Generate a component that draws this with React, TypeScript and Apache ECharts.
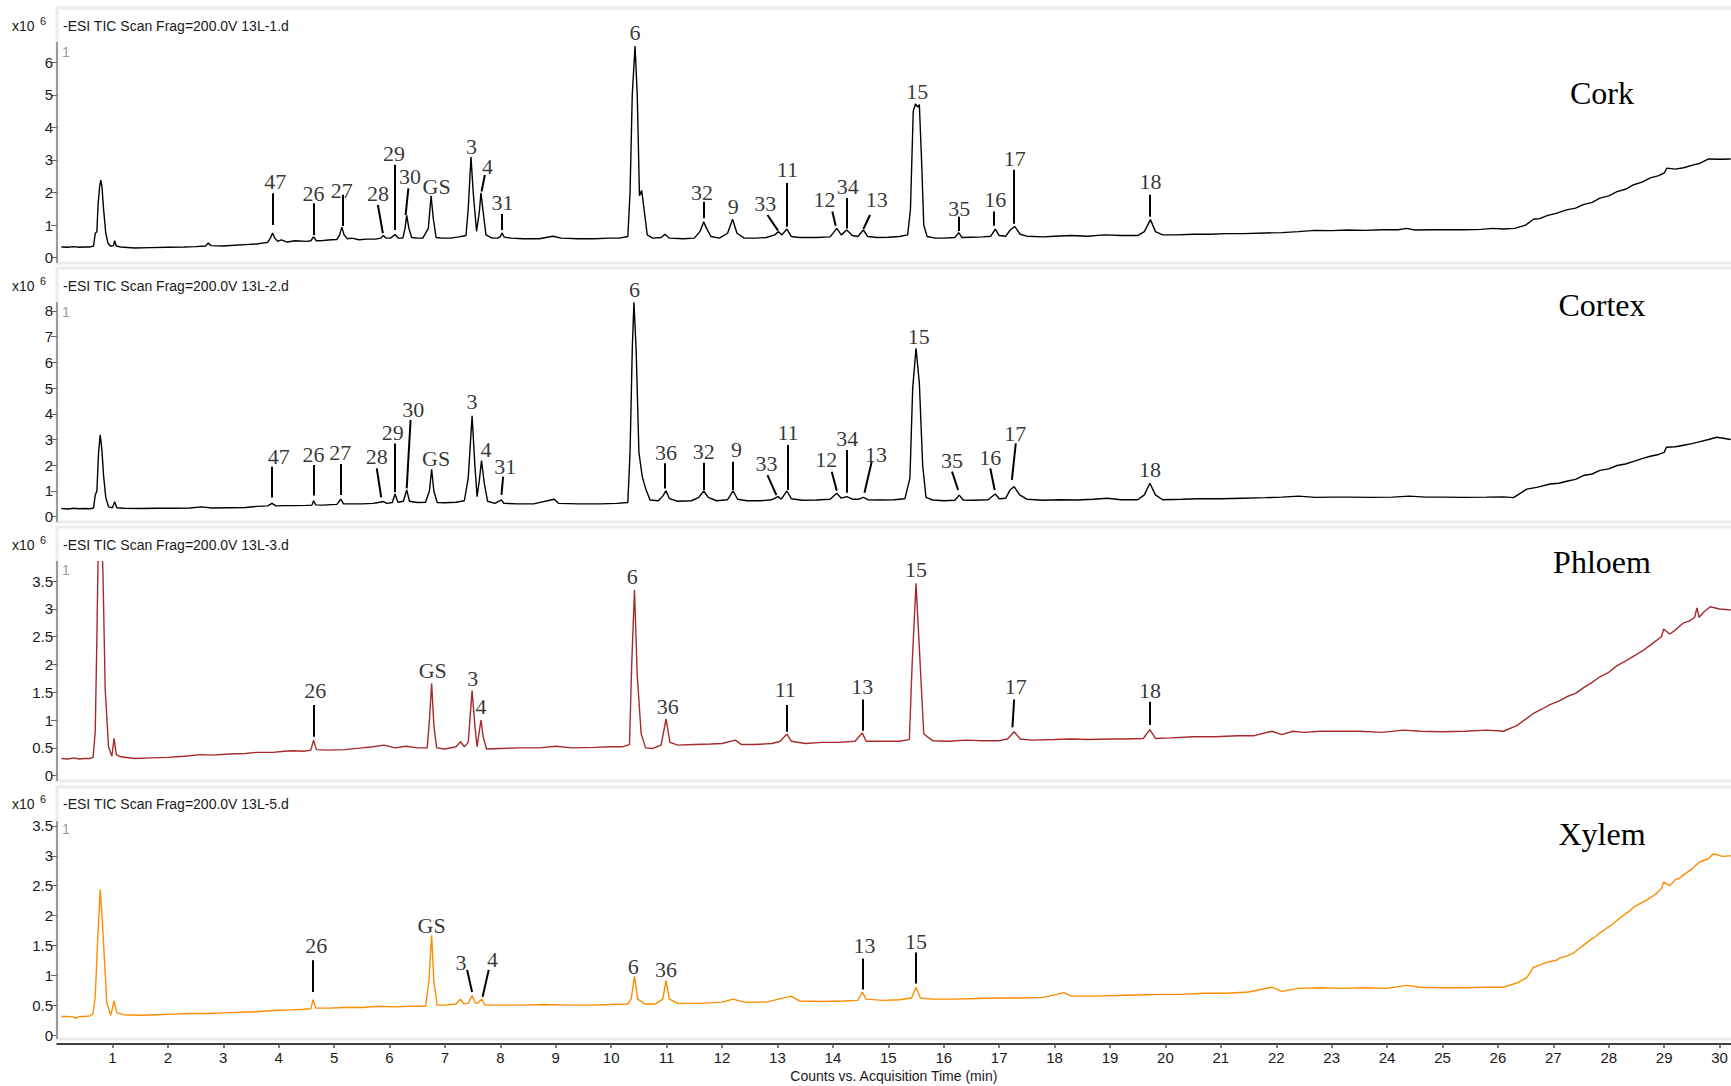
import React, { useEffect, useRef } from 'react';
import * as echarts from 'echarts';

// ---------- data: retention time (min) vs counts (x10^6) ----------
const corkTrace: [number, number][] = [
  [0.08,0.33],[0.2,0.32],[0.3,0.34],[0.4,0.32],[0.5,0.33],[0.6,0.33],[0.66,0.36],[0.69,0.75],[0.72,0.8],[0.74,1.6],[0.77,2.2],[0.79,2.38],[0.81,2.2],[0.84,1.5],[0.88,0.75],[0.92,0.45],[0.97,0.35],[1.02,0.38],[1.04,0.52],[1.07,0.36],[1.15,0.33],[1.4,0.3],[1.7,0.31],[2.0,0.32],[2.3,0.33],[2.5,0.34],[2.68,0.36],[2.73,0.45],[2.78,0.37],[3.0,0.36],[3.2,0.38],[3.4,0.4],[3.6,0.42],[3.8,0.47],[3.85,0.6],[3.89,0.76],[3.93,0.6],[3.98,0.5],[4.05,0.55],[4.15,0.48],[4.3,0.52],[4.5,0.5],[4.58,0.52],[4.63,0.64],[4.68,0.52],[4.8,0.53],[4.95,0.55],[5.05,0.56],[5.1,0.7],[5.14,0.94],[5.18,0.7],[5.24,0.58],[5.32,0.6],[5.45,0.55],[5.6,0.57],[5.75,0.57],[5.84,0.6],[5.89,0.68],[5.94,0.6],[6.02,0.6],[6.1,0.71],[6.16,0.6],[6.24,0.6],[6.28,0.9],[6.31,1.3],[6.35,0.9],[6.4,0.62],[6.5,0.6],[6.6,0.6],[6.7,0.9],[6.75,1.9],[6.79,1.2],[6.84,0.62],[6.95,0.6],[7.1,0.6],[7.25,0.64],[7.38,0.68],[7.42,1.5],[7.47,3.1],[7.51,2.0],[7.57,0.81],[7.62,1.4],[7.65,1.99],[7.69,1.4],[7.74,0.7],[7.85,0.6],[7.95,0.6],[8.0,0.65],[8.03,0.76],[8.07,0.63],[8.2,0.6],[8.4,0.58],[8.7,0.58],[8.95,0.66],[9.1,0.6],[9.4,0.58],[9.7,0.58],[9.95,0.6],[10.15,0.6],[10.3,0.65],[10.34,2.0],[10.38,5.0],[10.43,6.5],[10.47,5.0],[10.51,1.9],[10.55,2.06],[10.6,1.4],[10.65,0.7],[10.75,0.6],[10.9,0.62],[10.97,0.72],[11.05,0.6],[11.3,0.58],[11.5,0.6],[11.6,0.8],[11.67,1.1],[11.72,0.9],[11.8,0.65],[11.95,0.6],[12.1,0.75],[12.19,1.18],[12.27,0.75],[12.4,0.6],[12.6,0.6],[12.8,0.62],[12.95,0.7],[13.02,0.8],[13.08,0.7],[13.17,0.88],[13.25,0.65],[13.4,0.62],[13.7,0.62],[13.95,0.64],[14.07,0.9],[14.15,0.7],[14.25,0.85],[14.35,0.68],[14.45,0.65],[14.55,0.85],[14.63,0.65],[14.8,0.62],[15.0,0.63],[15.2,0.65],[15.35,0.7],[15.4,1.5],[15.45,4.5],[15.49,4.72],[15.53,4.62],[15.56,4.7],[15.6,3.0],[15.64,1.0],[15.7,0.65],[15.85,0.6],[16.0,0.6],[16.2,0.62],[16.27,0.77],[16.33,0.62],[16.5,0.63],[16.7,0.64],[16.85,0.66],[16.93,0.88],[17.0,0.68],[17.12,0.66],[17.2,0.85],[17.28,0.96],[17.38,0.72],[17.5,0.66],[17.8,0.64],[18.0,0.66],[18.3,0.68],[18.6,0.66],[18.9,0.7],[19.2,0.68],[19.5,0.68],[19.62,0.8],[19.73,1.17],[19.82,0.8],[19.95,0.7],[20.2,0.7],[20.5,0.72],[20.8,0.72],[21.1,0.74],[21.4,0.74],[21.8,0.76],[22.1,0.77],[22.4,0.8],[22.7,0.84],[23.0,0.83],[23.3,0.85],[23.6,0.84],[23.9,0.86],[24.2,0.86],[24.35,0.9],[24.5,0.85],[24.8,0.86],[25.1,0.86],[25.4,0.86],[25.7,0.87],[25.9,0.9],[26.1,0.88],[26.3,0.9],[26.5,1.0],[26.64,1.18],[26.75,1.2],[26.9,1.3],[27.05,1.36],[27.24,1.47],[27.4,1.52],[27.54,1.63],[27.7,1.7],[27.84,1.83],[28.0,1.9],[28.15,2.03],[28.3,2.1],[28.45,2.24],[28.6,2.32],[28.75,2.45],[28.9,2.52],[29.0,2.6],[29.05,2.75],[29.2,2.72],[29.35,2.76],[29.53,2.85],[29.65,2.9],[29.8,3.03],[30.0,3.02],[30.2,3.03]
];

const cortexTrace: [number, number][] = [
  [0.08,0.32],[0.2,0.3],[0.3,0.33],[0.4,0.31],[0.5,0.32],[0.6,0.31],[0.66,0.34],[0.69,0.84],[0.72,1.0],[0.75,2.5],[0.78,3.18],[0.81,2.6],[0.84,1.6],[0.88,0.75],[0.93,0.38],[1.0,0.35],[1.04,0.58],[1.08,0.35],[1.2,0.33],[1.5,0.32],[1.8,0.33],[2.1,0.33],[2.4,0.34],[2.6,0.38],[2.8,0.34],[3.1,0.35],[3.4,0.36],[3.6,0.4],[3.8,0.42],[3.88,0.52],[3.95,0.42],[4.1,0.43],[4.3,0.43],[4.5,0.44],[4.6,0.45],[4.63,0.62],[4.67,0.46],[4.8,0.45],[4.95,0.47],[5.05,0.48],[5.12,0.68],[5.17,0.5],[5.3,0.5],[5.5,0.5],[5.7,0.52],[5.8,0.55],[5.89,0.59],[5.95,0.52],[6.05,0.55],[6.1,0.88],[6.15,0.56],[6.25,0.6],[6.31,1.04],[6.36,0.6],[6.5,0.55],[6.65,0.56],[6.72,1.0],[6.76,1.84],[6.8,1.0],[6.86,0.55],[7.0,0.54],[7.2,0.56],[7.35,0.62],[7.42,1.5],[7.49,3.92],[7.54,2.0],[7.58,0.78],[7.62,1.4],[7.66,2.18],[7.71,1.3],[7.77,0.6],[7.9,0.52],[8.02,0.65],[8.06,0.52],[8.3,0.5],[8.6,0.5],[8.97,0.68],[9.05,0.52],[9.4,0.5],[9.8,0.5],[10.1,0.52],[10.3,0.55],[10.34,2.5],[10.38,6.5],[10.41,8.34],[10.45,6.5],[10.5,2.5],[10.56,1.56],[10.62,1.1],[10.7,0.65],[10.85,0.62],[10.93,0.8],[10.99,1.01],[11.05,0.7],[11.2,0.6],[11.45,0.62],[11.58,0.75],[11.67,1.0],[11.75,0.75],[11.9,0.62],[12.1,0.66],[12.2,1.0],[12.28,0.68],[12.45,0.62],[12.7,0.62],[12.9,0.66],[13.01,0.78],[13.07,0.68],[13.17,1.0],[13.25,0.7],[13.45,0.64],[13.7,0.65],[13.95,0.68],[14.07,0.91],[14.15,0.72],[14.25,0.78],[14.35,0.68],[14.47,0.68],[14.55,0.75],[14.63,0.66],[14.85,0.65],[15.1,0.66],[15.3,0.7],[15.39,1.5],[15.44,5.0],[15.5,6.55],[15.56,5.2],[15.62,2.0],[15.68,0.75],[15.8,0.65],[16.0,0.62],[16.2,0.64],[16.28,0.84],[16.35,0.65],[16.55,0.64],[16.8,0.66],[16.93,0.88],[17.0,0.7],[17.12,0.72],[17.2,1.05],[17.27,1.17],[17.37,0.85],[17.5,0.68],[17.8,0.64],[18.1,0.66],[18.4,0.65],[18.7,0.68],[18.95,0.72],[19.2,0.66],[19.5,0.66],[19.62,0.85],[19.72,1.3],[19.82,0.85],[19.95,0.66],[20.3,0.68],[20.6,0.7],[21.0,0.7],[21.4,0.72],[21.8,0.74],[22.1,0.76],[22.4,0.8],[22.7,0.75],[23.0,0.76],[23.3,0.76],[23.7,0.75],[24.1,0.76],[24.4,0.8],[24.7,0.76],[25.0,0.76],[25.4,0.75],[25.8,0.76],[26.1,0.77],[26.28,0.74],[26.52,1.07],[26.7,1.14],[26.94,1.27],[27.1,1.3],[27.24,1.38],[27.4,1.45],[27.54,1.6],[27.7,1.66],[27.84,1.8],[28.0,1.86],[28.15,1.99],[28.3,2.05],[28.45,2.15],[28.6,2.26],[28.75,2.35],[28.9,2.42],[29.0,2.5],[29.04,2.7],[29.2,2.72],[29.35,2.78],[29.5,2.84],[29.65,2.92],[29.8,3.0],[29.95,3.09],[30.2,3.0]
];

const phloemTrace: [number, number][] = [
  [0.08,0.31],[0.2,0.3],[0.3,0.32],[0.4,0.3],[0.5,0.31],[0.6,0.31],[0.65,0.33],[0.69,0.79],[0.72,2.5],[0.75,4.5],[0.79,5.0],[0.83,3.6],[0.87,1.54],[0.93,0.52],[0.99,0.35],[1.03,0.67],[1.07,0.38],[1.15,0.34],[1.4,0.31],[1.7,0.32],[2.0,0.33],[2.3,0.35],[2.58,0.38],[2.8,0.37],[3.1,0.39],[3.4,0.4],[3.6,0.42],[3.9,0.42],[4.1,0.44],[4.27,0.45],[4.45,0.44],[4.58,0.46],[4.63,0.64],[4.68,0.47],[4.9,0.46],[5.2,0.47],[5.5,0.5],[5.7,0.52],[5.9,0.55],[6.1,0.5],[6.3,0.53],[6.5,0.5],[6.68,0.5],[6.72,1.0],[6.76,1.66],[6.8,0.9],[6.85,0.5],[7.0,0.48],[7.2,0.52],[7.28,0.61],[7.35,0.52],[7.42,0.6],[7.49,1.53],[7.54,0.9],[7.58,0.52],[7.62,0.8],[7.65,1.0],[7.69,0.7],[7.75,0.48],[8.0,0.49],[8.3,0.5],[8.7,0.5],[9.0,0.53],[9.3,0.5],[9.7,0.51],[10.0,0.52],[10.2,0.52],[10.33,0.56],[10.37,2.0],[10.42,3.34],[10.47,1.8],[10.54,0.76],[10.62,0.5],[10.75,0.49],[10.9,0.55],[10.99,1.02],[11.06,0.6],[11.2,0.55],[11.5,0.56],[11.8,0.57],[12.0,0.58],[12.24,0.64],[12.35,0.56],[12.6,0.56],[12.9,0.58],[13.05,0.62],[13.17,0.75],[13.25,0.62],[13.5,0.58],[13.8,0.6],[14.1,0.6],[14.4,0.62],[14.53,0.77],[14.6,0.62],[14.9,0.62],[15.2,0.62],[15.38,0.65],[15.43,2.0],[15.5,3.46],[15.56,2.3],[15.64,0.75],[15.8,0.63],[16.1,0.62],[16.4,0.64],[16.7,0.63],[17.0,0.63],[17.15,0.66],[17.27,0.79],[17.38,0.66],[17.6,0.64],[18.0,0.65],[18.3,0.66],[18.6,0.65],[19.0,0.66],[19.3,0.66],[19.6,0.67],[19.72,0.83],[19.82,0.67],[20.1,0.68],[20.5,0.7],[20.9,0.7],[21.3,0.72],[21.6,0.72],[21.92,0.8],[22.1,0.74],[22.3,0.8],[22.5,0.78],[22.8,0.8],[23.1,0.8],[23.5,0.8],[23.9,0.78],[24.3,0.82],[24.6,0.8],[25.0,0.79],[25.4,0.8],[25.8,0.82],[26.1,0.8],[26.34,0.9],[26.64,1.12],[26.8,1.2],[26.94,1.28],[27.1,1.34],[27.24,1.42],[27.4,1.48],[27.54,1.58],[27.7,1.68],[27.84,1.78],[28.0,1.86],[28.15,1.98],[28.3,2.06],[28.45,2.15],[28.6,2.24],[28.75,2.35],[28.95,2.5],[28.99,2.64],[29.1,2.55],[29.2,2.62],[29.35,2.75],[29.45,2.78],[29.55,2.85],[29.59,3.02],[29.63,2.85],[29.72,2.95],[29.83,3.04],[30.0,3.0],[30.2,2.98]
];

const xylemTrace: [number, number][] = [
  [0.08,0.31],[0.2,0.31],[0.3,0.3],[0.35,0.28],[0.4,0.31],[0.5,0.31],[0.6,0.32],[0.65,0.36],[0.69,0.64],[0.73,1.5],[0.78,2.44],[0.82,1.87],[0.9,0.53],[0.97,0.33],[1.03,0.57],[1.08,0.37],[1.2,0.34],[1.5,0.33],[1.8,0.34],[2.1,0.35],[2.4,0.36],[2.7,0.36],[3.0,0.37],[3.3,0.38],[3.6,0.39],[3.9,0.41],[4.2,0.42],[4.45,0.43],[4.58,0.44],[4.62,0.59],[4.67,0.45],[4.9,0.45],[5.2,0.46],[5.5,0.46],[5.8,0.48],[6.1,0.47],[6.4,0.48],[6.65,0.48],[6.71,0.9],[6.76,1.67],[6.8,0.9],[6.86,0.5],[7.0,0.5],[7.2,0.52],[7.28,0.6],[7.34,0.52],[7.42,0.53],[7.49,0.66],[7.55,0.53],[7.6,0.54],[7.66,0.6],[7.72,0.5],[8.0,0.5],[8.4,0.5],[8.8,0.51],[9.2,0.5],[9.6,0.5],[10.0,0.51],[10.3,0.52],[10.36,0.6],[10.42,0.98],[10.48,0.6],[10.6,0.52],[10.8,0.52],[10.93,0.6],[10.99,0.91],[11.05,0.6],[11.2,0.53],[11.6,0.53],[12.0,0.55],[12.2,0.6],[12.4,0.55],[12.8,0.55],[13.24,0.65],[13.4,0.57],[13.8,0.56],[14.2,0.57],[14.45,0.58],[14.53,0.72],[14.6,0.6],[14.9,0.58],[15.2,0.59],[15.42,0.62],[15.5,0.8],[15.58,0.62],[15.8,0.6],[16.2,0.6],[16.6,0.61],[17.0,0.62],[17.4,0.62],[17.8,0.63],[18.17,0.71],[18.3,0.65],[18.7,0.65],[19.1,0.66],[19.5,0.67],[19.9,0.68],[20.3,0.68],[20.7,0.7],[21.1,0.7],[21.5,0.72],[21.92,0.8],[22.1,0.73],[22.4,0.78],[22.8,0.79],[23.2,0.78],[23.6,0.79],[24.0,0.78],[24.35,0.83],[24.6,0.8],[25.0,0.79],[25.4,0.79],[25.8,0.8],[26.1,0.8],[26.34,0.87],[26.52,0.96],[26.64,1.13],[26.75,1.17],[26.82,1.2],[26.94,1.23],[27.05,1.25],[27.12,1.29],[27.24,1.32],[27.38,1.38],[27.45,1.44],[27.54,1.5],[27.68,1.6],[27.75,1.64],[27.84,1.71],[27.98,1.8],[28.05,1.84],[28.15,1.92],[28.3,2.03],[28.37,2.07],[28.45,2.14],[28.6,2.22],[28.67,2.25],[28.75,2.3],[28.85,2.36],[28.95,2.45],[28.99,2.56],[29.1,2.5],[29.2,2.6],[29.27,2.62],[29.35,2.68],[29.5,2.78],[29.57,2.84],[29.65,2.9],[29.8,2.95],[29.88,3.03],[29.95,3.02],[30.05,2.99],[30.2,3.0]
];

type PeakLabel = { name: string; t: number; v: number; line?: [number, number, number, number] };

const corkLabels: PeakLabel[] = [
  { name: '47', t: 3.94, v: 2.34, line: [3.89, 1.98, 3.89, 1.0] },
  { name: '26', t: 4.63, v: 1.98, line: [4.63, 1.67, 4.63, 0.7] },
  { name: '27', t: 5.14, v: 2.06, line: [5.15, 1.93, 5.15, 0.97] },
  { name: '28', t: 5.79, v: 1.98, line: [5.79, 1.62, 5.88, 0.75] },
  { name: '29', t: 6.08, v: 3.21, line: [6.1, 2.85, 6.1, 0.85] },
  { name: '30', t: 6.37, v: 2.49, line: [6.34, 2.13, 6.29, 1.31] },
  { name: 'GS', t: 6.85, v: 2.18 },
  { name: '3', t: 7.48, v: 3.42 },
  { name: '4', t: 7.77, v: 2.8, line: [7.72, 2.54, 7.66, 2.03] },
  { name: '31', t: 8.04, v: 1.69, line: [8.03, 1.34, 8.03, 0.85] },
  { name: '6', t: 10.43, v: 6.91 },
  { name: '32', t: 11.64, v: 2.0, line: [11.67, 1.72, 11.67, 1.21] },
  { name: '9', t: 12.2, v: 1.57 },
  { name: '33', t: 12.78, v: 1.65, line: [12.82, 1.31, 13.01, 0.83] },
  { name: '11', t: 13.18, v: 2.7, line: [13.17, 2.29, 13.17, 0.95] },
  { name: '12', t: 13.85, v: 1.78, line: [13.99, 1.42, 14.05, 0.98] },
  { name: '34', t: 14.27, v: 2.18, line: [14.25, 1.83, 14.25, 0.9] },
  { name: '13', t: 14.79, v: 1.78, line: [14.67, 1.31, 14.55, 0.88] },
  { name: '15', t: 15.52, v: 5.11 },
  { name: '35', t: 16.28, v: 1.52, line: [16.27, 1.26, 16.27, 0.82] },
  { name: '16', t: 16.93, v: 1.78, line: [16.91, 1.42, 16.91, 0.98] },
  { name: '17', t: 17.28, v: 3.06, line: [17.26, 2.7, 17.26, 1.04] },
  { name: '18', t: 19.73, v: 2.34, line: [19.72, 1.93, 19.72, 1.26] },
];

const cortexLabels: PeakLabel[] = [
  { name: '47', t: 4.0, v: 2.33, line: [3.88, 1.94, 3.88, 0.75] },
  { name: '26', t: 4.63, v: 2.4, line: [4.63, 2.01, 4.63, 0.82] },
  { name: '27', t: 5.11, v: 2.49, line: [5.12, 2.05, 5.12, 0.84] },
  { name: '28', t: 5.77, v: 2.33, line: [5.77, 1.88, 5.85, 0.75] },
  { name: '29', t: 6.06, v: 3.27, line: [6.1, 2.85, 6.1, 0.95] },
  { name: '30', t: 6.43, v: 4.15, line: [6.38, 3.76, 6.31, 1.1] },
  { name: 'GS', t: 6.84, v: 2.27 },
  { name: '3', t: 7.49, v: 4.47 },
  { name: '4', t: 7.74, v: 2.6 },
  { name: '31', t: 8.09, v: 1.95, line: [8.05, 1.56, 8.02, 0.85] },
  { name: '6', t: 10.42, v: 8.82 },
  { name: '36', t: 10.99, v: 2.49, line: [10.97, 2.08, 10.97, 1.1] },
  { name: '32', t: 11.67, v: 2.53, line: [11.67, 2.1, 11.67, 1.04] },
  { name: '9', t: 12.26, v: 2.6, line: [12.2, 2.14, 12.2, 1.04] },
  { name: '33', t: 12.8, v: 2.05, line: [12.82, 1.62, 12.98, 0.84] },
  { name: '11', t: 13.19, v: 3.27, line: [13.19, 2.79, 13.19, 1.04] },
  { name: '12', t: 13.88, v: 2.23, line: [13.98, 1.75, 14.07, 1.01] },
  { name: '34', t: 14.26, v: 3.05, line: [14.25, 2.59, 14.25, 0.93] },
  { name: '13', t: 14.78, v: 2.4, line: [14.7, 2.14, 14.57, 0.93] },
  { name: '15', t: 15.55, v: 7.0 },
  { name: '35', t: 16.15, v: 2.2, line: [16.15, 1.75, 16.26, 1.04] },
  { name: '16', t: 16.84, v: 2.3, line: [16.84, 1.88, 16.92, 1.04] },
  { name: '17', t: 17.29, v: 3.24, line: [17.3, 2.85, 17.23, 1.43] },
  { name: '18', t: 19.72, v: 1.82 },
];

const phloemLabels: PeakLabel[] = [
  { name: '26', t: 4.66, v: 1.54, line: [4.63, 1.27, 4.63, 0.7] },
  { name: 'GS', t: 6.78, v: 1.9 },
  { name: '3', t: 7.5, v: 1.75 },
  { name: '4', t: 7.65, v: 1.24 },
  { name: '6', t: 10.38, v: 3.58 },
  { name: '36', t: 11.02, v: 1.25 },
  { name: '11', t: 13.14, v: 1.55, line: [13.16, 1.27, 13.16, 0.79] },
  { name: '13', t: 14.53, v: 1.6, line: [14.53, 1.37, 14.53, 0.81] },
  { name: '15', t: 15.5, v: 3.71 },
  { name: '17', t: 17.3, v: 1.6, line: [17.27, 1.37, 17.24, 0.87] },
  { name: '18', t: 19.72, v: 1.54, line: [19.72, 1.33, 19.72, 0.91] },
];

const xylemLabels: PeakLabel[] = [
  { name: '26', t: 4.68, v: 1.5, line: [4.62, 1.25, 4.62, 0.72] },
  { name: 'GS', t: 6.76, v: 1.84 },
  { name: '3', t: 7.29, v: 1.21, line: [7.4, 1.09, 7.49, 0.72] },
  { name: '4', t: 7.86, v: 1.27, line: [7.79, 1.09, 7.68, 0.64] },
  { name: '6', t: 10.4, v: 1.14 },
  { name: '36', t: 10.99, v: 1.1 },
  { name: '13', t: 14.57, v: 1.49, line: [14.53, 1.28, 14.53, 0.76] },
  { name: '15', t: 15.5, v: 1.56, line: [15.49, 1.38, 15.49, 0.86] },
];

const sampleNames = ['Cork', 'Cortex', 'Phloem', 'Xylem'];
const fileNames = ['13L-1.d', '13L-2.d', '13L-3.d', '13L-5.d'];
const traceColors = ['#000000', '#000000', '#a52a2a', '#ff8c00'];
const traces = [corkTrace, cortexTrace, phloemTrace, xylemTrace];
const peakLabels = [corkLabels, cortexLabels, phloemLabels, xylemLabels];
const yMaxes = [6.6, 8.32, 3.85, 3.57];
const yTicks = [
  [0, 1, 2, 3, 4, 5, 6],
  [0, 1, 2, 3, 4, 5, 6, 7, 8],
  [0, 0.5, 1, 1.5, 2, 2.5, 3, 3.5],
  [0, 0.5, 1, 1.5, 2, 2.5, 3, 3.5],
];
const xTicks = Array.from({ length: 30 }, (_, i) => i + 1);
const X_MAX = 30.2;

// ---------- layout (pixels) ----------
const W = 1731;
const H = 1086;
const GRID_LEFT = 57;
const GRID_WIDTH = 1673.7;
const layout = [
  { top: 42.7, height: 215, frameTop: 8, frameBottom: 263, headerY: 26, oneY: 52, nameY: 93 },
  { top: 302.7, height: 214, frameTop: 268, frameBottom: 522, headerY: 286, oneY: 312, nameY: 305 },
  { top: 561.7, height: 214, frameTop: 527, frameBottom: 781, headerY: 545, oneY: 570, nameY: 562 },
  { top: 821.7, height: 213.3, frameTop: 787, frameBottom: 1039, headerY: 804, oneY: 829, nameY: 834 },
];

const SANS = '"Liberation Sans", Arial, sans-serif';
const SERIF = '"Liberation Serif", "Times New Roman", serif';

function buildOption() {
  const grids = layout.map((l) => ({ left: GRID_LEFT, top: l.top, width: GRID_WIDTH, height: l.height }));

  const xAxes = layout.map((_, i) => {
    const isBottom = i === layout.length - 1;
    return {
      type: 'value',
      gridIndex: i,
      min: 0,
      max: X_MAX,
      interval: 1,
      show: isBottom,
      position: 'bottom',
      offset: isBottom ? 9 : 0,
      axisLine: { show: true, onZero: false, lineStyle: { color: '#000', width: 1.5 } },
      axisTick: { show: true, length: 4, lineStyle: { color: '#555', width: 1.5 }, customValues: xTicks },
      axisLabel: { show: true, customValues: xTicks, fontSize: 15, color: '#1a1a1a', fontFamily: SANS, margin: 6 },
      splitLine: { show: false },
      name: isBottom ? 'Counts vs. Acquisition Time (min)' : '',
      nameLocation: 'middle',
      nameGap: 25,
      nameTextStyle: { fontSize: 14, color: '#1a1a1a', fontFamily: SANS },
    };
  });

  const yAxes = layout.map((_, i) => ({
    type: 'value',
    gridIndex: i,
    min: 0,
    max: yMaxes[i],
    interval: i < 2 ? 1 : 0.5,
    axisLine: { show: true, lineStyle: { color: '#9a9a9a', width: 2 } },
    axisTick: { show: true, length: 6, lineStyle: { color: '#666', width: 1 }, customValues: yTicks[i] },
    axisLabel: { show: true, customValues: yTicks[i], fontSize: 15, color: '#1a1a1a', fontFamily: SANS, margin: 4 },
    splitLine: { show: false },
  }));

  const series: any[] = [];
  traces.forEach((trace, i) => {
    series.push({
      type: 'line',
      xAxisIndex: i,
      yAxisIndex: i,
      data: trace,
      symbol: 'none',
      showSymbol: false,
      silent: true,
      lineStyle: { color: traceColors[i], width: 1.4 },
      z: 3,
    });
    series.push({
      type: 'lines',
      coordinateSystem: 'cartesian2d',
      xAxisIndex: i,
      yAxisIndex: i,
      silent: true,
      data: peakLabels[i]
        .filter((p) => p.line)
        .map((p) => ({ coords: [[p.line![0], p.line![1]], [p.line![2], p.line![3]]] })),
      lineStyle: { color: '#000', width: 2, opacity: 1 },
      z: 4,
    });
    series.push({
      type: 'scatter',
      xAxisIndex: i,
      yAxisIndex: i,
      silent: true,
      clip: false,
      symbolSize: 1,
      itemStyle: { color: 'rgba(0,0,0,0)' },
      data: peakLabels[i].map((p) => ({ name: p.name, value: [p.t, p.v] })),
      label: {
        show: true,
        position: 'inside',
        formatter: '{b}',
        fontFamily: SERIF,
        fontSize: 22,
        color: '#000',
      },
      z: 5,
    });
  });

  const graphic: any[] = [];
  layout.forEach((l, i) => {
    graphic.push({
      type: 'rect',
      z: 0,
      silent: true,
      shape: { x: GRID_LEFT, y: l.frameTop, width: W - GRID_LEFT + 4, height: l.frameBottom - l.frameTop },
      style: { fill: 'none', stroke: '#ececec', lineWidth: 3 },
    });
    graphic.push({
      type: 'line',
      z: 1,
      silent: true,
      shape: { x1: GRID_LEFT, y1: l.top + l.height, x2: GRID_LEFT, y2: l.frameBottom },
      style: { stroke: '#9a9a9a', lineWidth: 2 },
    });
    graphic.push({
      type: 'text',
      silent: true,
      x: 12,
      y: l.headerY,
      style: { text: 'x10', fontSize: 14, fontFamily: SANS, fill: '#1a1a1a', textVerticalAlign: 'middle' },
    });
    graphic.push({
      type: 'text',
      silent: true,
      x: 40,
      y: l.headerY - 5,
      style: { text: '6', fontSize: 11, fontFamily: SANS, fill: '#1a1a1a', textVerticalAlign: 'middle' },
    });
    graphic.push({
      type: 'text',
      silent: true,
      x: 63,
      y: l.headerY,
      style: {
        text: '-ESI TIC Scan Frag=200.0V ' + fileNames[i],
        fontSize: 14,
        fontFamily: SANS,
        fill: '#1a1a1a',
        textVerticalAlign: 'middle',
      },
    });
    graphic.push({
      type: 'text',
      silent: true,
      x: 62,
      y: l.oneY,
      style: { text: '1', fontSize: 14, fontFamily: SANS, fill: '#9a9a9a', textVerticalAlign: 'middle' },
    });
    graphic.push({
      type: 'text',
      silent: true,
      x: 1602,
      y: l.nameY,
      style: {
        text: sampleNames[i],
        fontSize: 32,
        fontFamily: SERIF,
        fill: '#000',
        textAlign: 'center',
        textVerticalAlign: 'middle',
      },
    });
  });

  return {
    animation: false,
    backgroundColor: '#ffffff',
    grid: grids,
    xAxis: xAxes,
    yAxis: yAxes,
    series,
    graphic,
  };
}

export default function App() {
  const ref = useRef<HTMLDivElement>(null);
  useEffect(() => {
    document.body.style.margin = '0';
    if (!ref.current) return;
    const chart = echarts.init(ref.current, undefined, { renderer: 'svg', width: W, height: H });
    chart.setOption(buildOption() as any);
    return () => chart.dispose();
  }, []);
  return <div ref={ref} style={{ position: 'absolute', left: 0, top: 0, width: W, height: H }} />;
}
